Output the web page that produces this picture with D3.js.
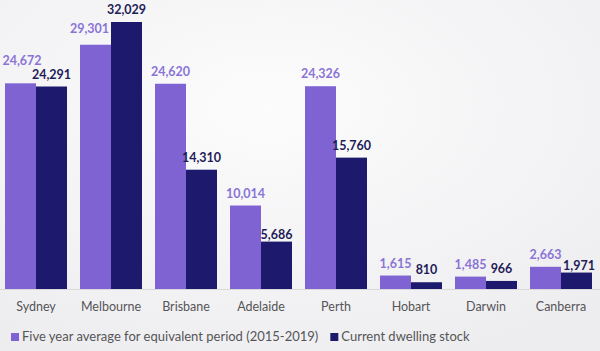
<!DOCTYPE html>
<html>
<head>
<meta charset="utf-8">
<script src="https://cdn.jsdelivr.net/npm/d3@7"></script>
<style>
  html, body { margin: 0; padding: 0; }
  body { width: 600px; height: 351px; overflow: hidden; }
  text { font-family: Lato, "Open Sans", sans-serif; }
</style>
</head>
<body>
<div id="main"></div>
<script>
// chart data
const cities = ['Sydney', 'Melbourne', 'Brisbane', 'Adelaide', 'Perth', 'Hobart', 'Darwin', 'Canberra'];
const fiveYearAvg = [24672, 29301, 24620, 10014, 24326, 1615, 1485, 2663];
const currentStock = [24291, 32029, 14310, 5686, 15760, 810, 966, 1971];
const seriesNames = ['Five year average for equivalent period (2015-2019)', 'Current dwelling stock'];

// small label nudges (overlap avoidance like the original)
const nudge = {
    'Sydney-0': [1.5, -10],
    'Melbourne-0': [-6, -4],
    'Adelaide-1': [0, 5],
    'Canberra-1': [2.5, 5]
};

const width = 600, height = 351;
const baseY = 289;

const barColor = ['#7f63d3', '#1d196c'];
const labelColor = ['#8a74d6', '#1f1c58'];

let svg = d3.select('#main').append('svg')
    .attr('width', width)
    .attr('height', height);

let defs = svg.append('defs');
let grad = defs.append('radialGradient')
    .attr('id', 'bg')
    .attr('cx', '45%').attr('cy', '30%').attr('r', '80%');
grad.append('stop').attr('offset', '0%').attr('stop-color', '#fcfcfd');
grad.append('stop').attr('offset', '100%').attr('stop-color', '#ededef');

svg.append('rect')
    .attr('width', width).attr('height', height)
    .attr('fill', 'url(#bg)');

let x0 = d3.scaleBand()
    .domain(cities)
    .range([-1.5, 598.5])
    .paddingInner(13 / 75)
    .paddingOuter(13 / 150);

let x1 = d3.scaleBand()
    .domain([0, 1])
    .range([0, x0.bandwidth()]);

let y = d3.scaleLinear()
    .domain([0, 32029])
    .range([baseY, 22]);

let rows = cities.map((c, i) => ({ city: c, values: [fiveYearAvg[i], currentStock[i]] }));

// baseline
svg.append('line')
    .attr('x1', 0).attr('x2', width)
    .attr('y1', baseY + 0.5).attr('y2', baseY + 0.5)
    .attr('stroke', '#d9d9dc')
    .attr('stroke-width', 1);

let group = svg.append('g')
    .selectAll('g')
    .data(rows)
    .enter()
    .append('g')
    .attr('transform', d => 'translate(' + x0(d.city) + ',0)');

let fmt = d3.format(',');

group.selectAll('rect')
    .data(d => d.values.map((v, k) => ({ city: d.city, k: k, v: v })))
    .enter()
    .append('rect')
    .attr('x', d => x1(d.k))
    .attr('y', d => y(d.v))
    .attr('width', x1.bandwidth())
    .attr('height', d => baseY - y(d.v))
    .attr('fill', d => barColor[d.k]);

group.selectAll('text.val')
    .data(d => d.values.map((v, k) => ({ city: d.city, k: k, v: v })))
    .enter()
    .append('text')
    .attr('class', 'val')
    .attr('x', d => x1(d.k) + x1.bandwidth() / 2 + (nudge[d.city + '-' + d.k] || [0, 0])[0])
    .attr('y', d => y(d.v) - 8 + (nudge[d.city + '-' + d.k] || [0, 0])[1])
    .attr('text-anchor', 'middle')
    .attr('font-size', '12.5px')
    .attr('font-weight', 'bold')
    .attr('fill', d => labelColor[d.k])
    .text(d => fmt(d.v));

// category labels
svg.append('g')
    .selectAll('text')
    .data(cities)
    .enter()
    .append('text')
    .attr('x', d => x0(d) + x0.bandwidth() / 2)
    .attr('y', 311)
    .attr('text-anchor', 'middle')
    .attr('font-size', '12.5px')
    .attr('fill', '#555558')
    .text(d => d);

// legend
let legend = svg.append('g').attr('transform', 'translate(11,333)');
let lx = 0;
seriesNames.forEach((name, k) => {
    let item = legend.append('g').attr('transform', 'translate(' + lx + ',0)');
    item.append('rect')
        .attr('width', 8).attr('height', 8)
        .attr('fill', barColor[k]);
    let t = item.append('text')
        .attr('x', 11)
        .attr('y', 8)
        .attr('font-size', '13px')
        .attr('fill', '#555558')
        .text(name);
    lx += 11 + t.node().getComputedTextLength() + 12;
});
</script>
</body>
</html>
